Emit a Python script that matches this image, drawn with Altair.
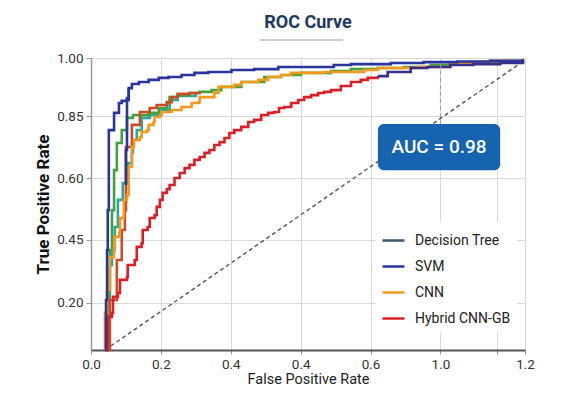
import json
import altair as alt
import pandas as pd

# ---------------- data ----------------
legend_names = ["Decision Tree", "SVM", "CNN", "Hybrid CNN-GB"]

svm_fpr = [0.040, 0.043, 0.046, 0.048, 0.051, 0.066, 0.080, 0.088, 0.103, 0.108, 0.117, 0.137, 0.165, 0.194,
           0.222, 0.259, 0.296, 0.336, 0.402, 0.467, 0.536, 0.695, 0.744, 0.858, 0.952, 1.048, 1.142, 1.236]
svm_tpr = [0.0, 0.171, 0.342, 0.479, 0.753, 0.812, 0.846, 0.853, 0.863, 0.897, 0.911, 0.918, 0.925, 0.932,
           0.935, 0.942, 0.949, 0.952, 0.959, 0.962, 0.969, 0.976, 0.979, 0.983, 0.986, 0.988, 0.990, 0.997]

cnn_fpr = [0.040, 0.040, 0.046, 0.054, 0.066, 0.068, 0.080, 0.083, 0.094, 0.094, 0.103, 0.108, 0.117, 0.123,
           0.140, 0.145, 0.160, 0.165, 0.179, 0.182, 0.197, 0.202, 0.231, 0.259, 0.288, 0.308, 0.311, 0.353,
           0.365, 0.410, 0.430, 0.479, 0.507, 0.544, 0.573, 0.667, 0.781, 0.821, 0.934, 1.028, 1.085, 1.142, 1.236]
cnn_tpr = [0.0, 0.127, 0.205, 0.318, 0.353, 0.387, 0.401, 0.452, 0.455, 0.514, 0.531, 0.627, 0.695, 0.719,
           0.729, 0.747, 0.753, 0.771, 0.781, 0.798, 0.805, 0.815, 0.822, 0.832, 0.846, 0.849, 0.866, 0.880,
           0.901, 0.908, 0.918, 0.925, 0.935, 0.942, 0.949, 0.952, 0.959, 0.966, 0.969, 0.983, 0.986, 0.990, 0.993]

hyb_fpr = [0.046, 0.048, 0.060, 0.063, 0.077, 0.083, 0.103, 0.105, 0.125, 0.131, 0.145, 0.148, 0.162, 0.168,
           0.182, 0.188, 0.197, 0.205, 0.217, 0.225, 0.239, 0.254, 0.268, 0.282, 0.296, 0.311, 0.325, 0.339,
           0.353, 0.368, 0.382, 0.396, 0.410, 0.430, 0.450, 0.467, 0.487, 0.507, 0.524, 0.538, 0.553, 0.573,
           0.593, 0.610, 0.630, 0.650, 0.667, 0.687, 0.715, 0.744, 0.772, 0.792, 0.821]
hyb_tpr = [0.0, 0.113, 0.127, 0.182, 0.195, 0.240, 0.250, 0.291, 0.308, 0.353, 0.366, 0.411, 0.421, 0.452,
           0.462, 0.490, 0.514, 0.538, 0.551, 0.565, 0.589, 0.606, 0.623, 0.634, 0.651, 0.661, 0.675, 0.685,
           0.702, 0.712, 0.726, 0.743, 0.753, 0.764, 0.781, 0.788, 0.805, 0.812, 0.815, 0.829, 0.832, 0.846,
           0.856, 0.866, 0.873, 0.880, 0.884, 0.890, 0.904, 0.918, 0.925, 0.932, 0.938]

# extra, unlabelled curves that appear in the picture
green_fpr = [0.043, 0.048, 0.054, 0.060, 0.066, 0.074, 0.088, 0.103, 0.120, 0.165, 0.194, 0.217, 0.225, 0.248,
             0.282, 0.311, 0.345, 0.373, 0.430, 0.496, 0.544, 0.601, 0.687, 0.744, 0.821, 0.895, 0.972, 1.028,
             1.142, 1.236]
green_tpr = [0.0, 0.171, 0.342, 0.479, 0.616, 0.709, 0.753, 0.795, 0.805, 0.812, 0.829, 0.846, 0.866, 0.873,
             0.880, 0.884, 0.890, 0.901, 0.918, 0.935, 0.942, 0.949, 0.955, 0.962, 0.966, 0.969, 0.976, 0.983,
             0.986, 0.993]
teal_fpr = [0.040, 0.043, 0.048, 0.054, 0.060, 0.068, 0.077, 0.091, 0.103, 0.105, 0.117, 0.120, 0.131, 0.145,
            0.168, 0.202, 0.225, 0.248, 0.300]
teal_tpr = [0.0, 0.103, 0.205, 0.291, 0.342, 0.421, 0.514, 0.572, 0.582, 0.640, 0.675, 0.719, 0.753, 0.795,
            0.805, 0.822, 0.856, 0.870, 0.877]
brown_fpr = [0.043, 0.054, 0.074, 0.088, 0.097, 0.100, 0.117, 0.140, 0.168, 0.188, 0.217, 0.231, 0.248, 0.282, 0.311]
brown_tpr = [0.0, 0.171, 0.308, 0.411, 0.479, 0.695, 0.771, 0.815, 0.829, 0.839, 0.849, 0.866, 0.877, 0.880, 0.884]
tail_fpr = [0.821, 0.849, 0.915, 0.963, 1.028, 1.094, 1.171, 1.236]
tail_tpr = [0.938, 0.952, 0.966, 0.969, 0.976, 0.979, 0.983, 0.990]
navy2_fpr = [0.100, 0.100, 0.103, 0.108]
navy2_tpr = [0.565, 0.685, 0.856, 0.897]

diag_fpr = [0.040, 1.242]
diag_tpr = [0.0, 0.993]

x_tick_vals = [0, 0.2, 0.4, 0.6, 0.8, 1.0, 1.162, 1.242]
x_tick_labels = ["0.0", "0.2", "0.4", "0.4", "0.6", "1.0", "", "1.2"]
y_tick_vals = [0.161, 0.377, 0.589, 0.801, 1.0]
y_tick_labels = ["0.20", "0.45", "0.60", "0.85", "1.00"]

title_text = "ROC Curve"
auc_text = "AUC = 0.98"

# ---------------- styling ----------------
FONT = "Roboto"
series_colors = {
    "Decision Tree": "#3d566e",
    "SVM": "#28359c",
    "CNN": "#f39a1e",
    "Hybrid CNN-GB": "#dc1f26",
    "green": "#45a23a",
    "teal": "#25ab9a",
    "brown": "#cf4a26",
    "tail": "#3a2f8c",
    "navy2": "#28359c",
}
dom = list(series_colors.keys())
rng = list(series_colors.values())

x_label_expr = f"{json.dumps(x_tick_labels)}[indexof({json.dumps(x_tick_vals)}, datum.value)]"
y_label_expr = f"{json.dumps(y_tick_labels)}[indexof({json.dumps(y_tick_vals)}, datum.value)]"

X = alt.X("fpr:Q", scale=alt.Scale(domain=[0, 1.242], nice=False, zero=False),
          axis=alt.Axis(values=x_tick_vals, labelExpr=x_label_expr, title="False Positive Rate",
                        labelFont=FONT, labelFontSize=13.5, labelColor="#333", labelPadding=3,
                        labelFlush=False, labelOverlap=False,
                        titleFont=FONT, titleFontSize=14.5, titleFontWeight="normal", titleColor="#222",
                        titlePadding=2, tickSize=4, tickColor="#999", domainColor="#555", domainWidth=2,
                        gridColor="#d9d9d9"))
Y = alt.Y("tpr:Q", scale=alt.Scale(domain=[0, 1.0], nice=False, zero=False),
          axis=alt.Axis(values=y_tick_vals, labelExpr=y_label_expr, title="True Positive Rate",
                        labelFont=FONT, labelFontSize=13.5, labelColor="#333", labelPadding=3,
                        labelFlush=False, labelOverlap=False,
                        titleFont=FONT, titleFontSize=17, titleFontWeight="bold", titleColor="#111",
                        titlePadding=4, tickSize=5, tickColor="#999", domainColor="#999", domainWidth=1.5,
                        gridColor="#d9d9d9"))
COLOR = alt.Color("series:N", scale=alt.Scale(domain=dom, range=rng),
                  legend=alt.Legend(values=legend_names, title=None, orient="none", legendX=284, legendY=164,
                                    symbolType="stroke", symbolSize=484, symbolStrokeWidth=2.5,
                                    labelFont=FONT, labelFontSize=14, labelColor="#222", labelOffset=9,
                                    rowPadding=6, fillColor="white", padding=6))


def curve(name, fpr, tpr):
    return pd.DataFrame({"fpr": fpr, "tpr": tpr, "series": name, "i": range(len(fpr))})


curves = [
    ("teal", teal_fpr, teal_tpr),
    ("green", green_fpr, green_tpr),
    ("brown", brown_fpr, brown_tpr),
    ("CNN", cnn_fpr, cnn_tpr),
    ("Hybrid CNN-GB", hyb_fpr, hyb_tpr),
    ("tail", tail_fpr, tail_tpr),
    ("navy2", navy2_fpr, navy2_tpr),
    ("SVM", svm_fpr, svm_tpr),
]

diag = alt.Chart(pd.DataFrame({"fpr": diag_fpr, "tpr": diag_tpr, "series": "diag"})).mark_line(
    color="#555", strokeDash=[4, 3], strokeWidth=1.4).encode(x=X, y=Y)

layers = [diag]
for name, f, t in curves:
    layers.append(
        alt.Chart(curve(name, f, t)).mark_line(strokeWidth=2.6, interpolate="step-after").encode(
            x=X, y=Y, color=COLOR, order="i:Q")
    )

# dashed marker line at FPR 1.0 above the AUC box
vline = alt.Chart(pd.DataFrame({"fpr": [1.0], "tpr": [0.774], "tpr2": [0.993]})).mark_rule(
    color="#9a9a9a", strokeDash=[4, 3], strokeWidth=1).encode(x=X, y=Y, y2=alt.Y2("tpr2"))

box = alt.Chart(pd.DataFrame({"fpr": [0.821], "fpr2": [1.171], "tpr": [0.616], "tpr2": [0.774]})).mark_rect(
    color="#1663b0", cornerRadius=6).encode(x=X, x2=alt.X2("fpr2"), y=Y, y2=alt.Y2("tpr2"))
box_text = alt.Chart(pd.DataFrame({"fpr": [0.996], "tpr": [0.695], "t": [auc_text]})).mark_text(
    color="white", font=FONT, fontSize=19, fontWeight=500, align="center", baseline="middle").encode(
    x=X, y=Y, text="t:N")

# chart title (as text above the plot) with its underline
title = alt.Chart(pd.DataFrame({"t": [title_text]})).mark_text(
    font=FONT, fontSize=18, fontWeight="bold", color="#1e3a5f", align="center", baseline="middle").encode(
    x=alt.value(217), y=alt.value(-35), text="t:N")
underline = alt.Chart(pd.DataFrame({"a": [0]})).mark_rule(color="#b8bcc4", strokeWidth=1.5).encode(
    x=alt.value(169), x2=alt.value(252), y=alt.value(-18))

chart = alt.layer(*layers, vline, box, box_text, title, underline).properties(
    width=434, height=292,
    autosize=alt.AutoSizeParams(type="none"),
    padding={"left": 83, "top": 50, "right": 30, "bottom": 37},
).configure_view(stroke="#999", strokeWidth=1.5).configure(background="white")

chart.save("out.html", embed_options={"renderer": "svg", "actions": False})
